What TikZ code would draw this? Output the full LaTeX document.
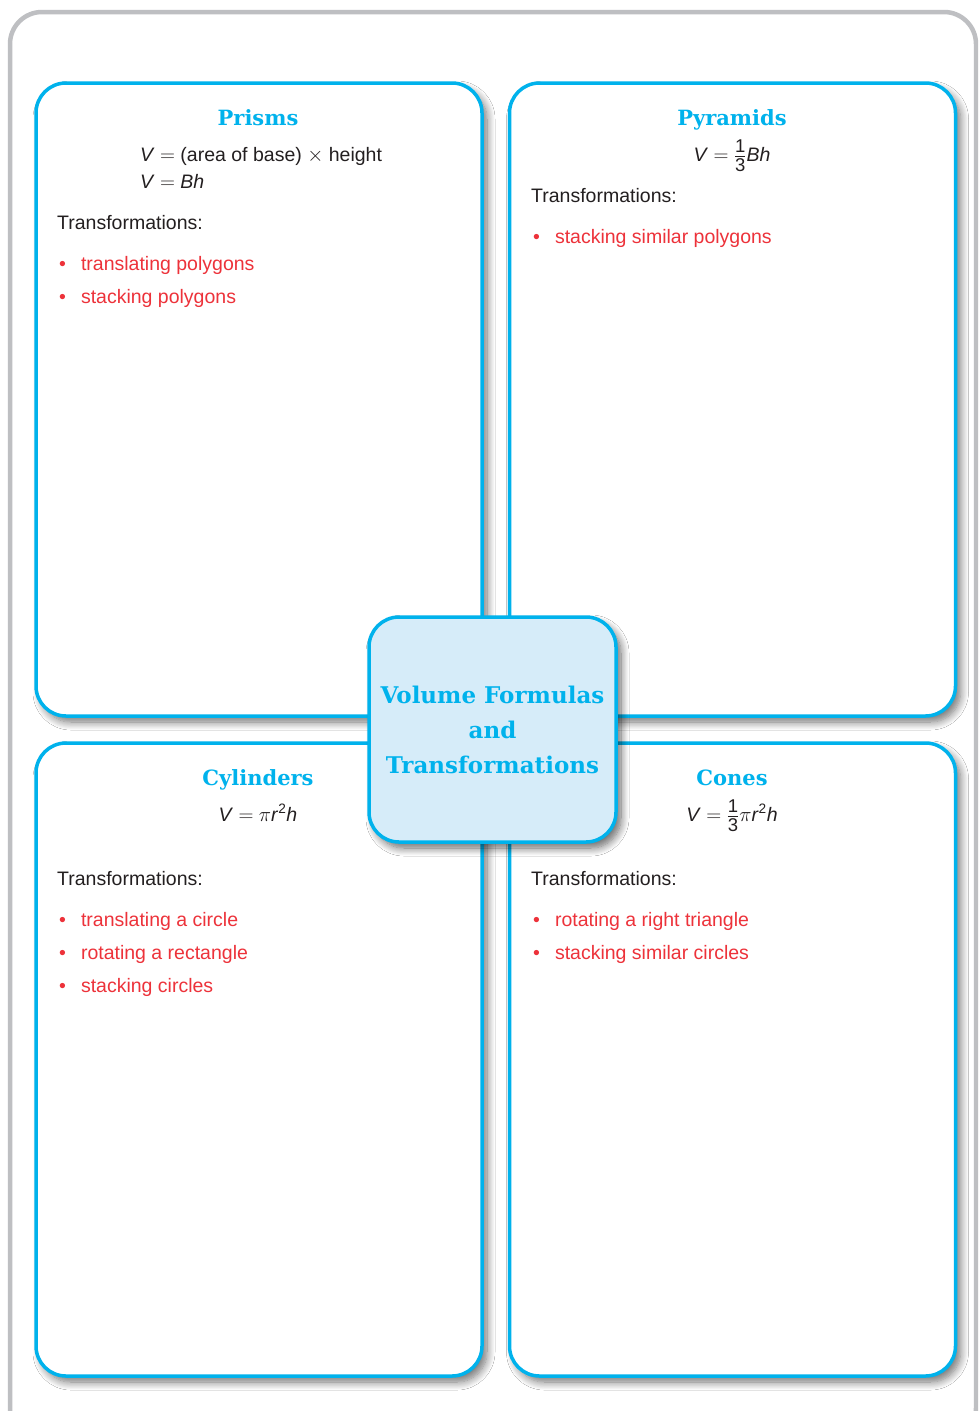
\documentclass[tikz,border=0pt]{standalone}
\usepackage{fontspec}
\setmainfont{Liberation Sans}
\newfontfamily\titlefont{DejaVu Serif}
\usetikzlibrary{positioning,shadows.blur}
\definecolor{framegray}{RGB}{190,191,194}
\definecolor{panelcyan}{RGB}{0,178,236}
\definecolor{hubfill}{RGB}{214,236,249}
\definecolor{itemred}{RGB}{237,50,58}
\definecolor{textdark}{RGB}{35,31,32}

\newcommand{\bodysize}{\fontsize{19.5}{23}\selectfont}
\newcommand{\headsize}{\titlefont\bfseries\fontsize{21}{35}\selectfont}
\newcommand{\hubsize}{\titlefont\bfseries\fontsize{23}{35}\selectfont}
\newcommand{\fracsize}{\fontsize{18.5}{19}\selectfont}
\newcommand{\third}{$\frac{\hbox{\fracsize\rule[-2pt]{0pt}{2pt}1}}{\hbox{\fracsize\rule{0pt}{15pt}3}}$}
\newcommand{\itemdot}{\textbullet\hspace{15pt}}

\begin{document}
\begin{tikzpicture}[x=1pt,y=-1pt,
  panel/.style={draw=panelcyan, line width=3.5pt, rounded corners=30pt, fill=white,
    minimum width=446pt, minimum height=633pt,
    blur shadow={shadow xshift=5pt, shadow yshift=-6pt, shadow blur radius=8pt, shadow blur steps=10, shadow opacity=55}},
  hub/.style={draw=panelcyan, line width=3.5pt, rounded corners=30pt, fill=hubfill,
    minimum width=247pt, minimum height=225pt, align=center, text=panelcyan, font=\hubsize,
    blur shadow={shadow xshift=5pt, shadow yshift=-6pt, shadow blur radius=8pt, shadow blur steps=10, shadow opacity=60}},
  head/.style={font=\headsize, text=panelcyan, anchor=base, inner sep=0pt},
  formula/.style={font=\bodysize, text=textdark, anchor=base, inner sep=0pt},
  bodytext/.style={font=\bodysize, text=textdark, anchor=base west, inner sep=0pt},
  bulletitem/.style={font=\bodysize, text=itemred, anchor=base west, inner sep=0pt}]
\useasboundingbox (0,0) rectangle (978,1411);
\clip (0,0) rectangle (978,1411);
\fill[white] (0,0) rectangle (978,1411);

% outer frame
\draw[framegray, line width=4.5pt, rounded corners=32pt] (10,12) rectangle (976,1440);

% four panels
\node[panel] (prisms) at (259,399.5) {};
\node[panel] (pyramids) at (732.5,399.5) {};
\node[panel] (cylinders) at (259,1059.5) {};
\node[panel] (cones) at (732.5,1059.5) {};

% prisms
\node[head] (prismshead) at (258,125) {Prisms};
\node[bodytext] (prismsf1) at (140,161) {\textit{V} $=$ (area of base) $\times$ height};
\node[bodytext] (prismsf2) at (140,188) {\textit{V} $=$ \textit{Bh}};
\node[bodytext] (prismst) at (57,229) {Transformations:};
\node[bulletitem] (prisms1) at (59,270) {\itemdot translating polygons};
\node[bulletitem] (prisms2) at (59,303) {\itemdot stacking polygons};

% pyramids
\node[head] (pyramidshead) at (732,125) {Pyramids};
\node[formula] (pyramidsf) at (732,161) {\textit{V} $=$ \third\textit{Bh}};
\node[bodytext] (pyramidst) at (531,202) {Transformations:};
\node[bulletitem] (pyramids1) at (533,243) {\itemdot stacking similar polygons};

% cylinders
\node[head] (cylindershead) at (258,785) {Cylinders};
\node[formula] (cylindersf) at (258,821) {\textit{V} $=$ $\pi$\textit{r}\textsuperscript{2}\textit{h}};
\node[bodytext] (cylinderst) at (57,885) {Transformations:};
\node[bulletitem] (cylinders1) at (59,926) {\itemdot translating a circle};
\node[bulletitem] (cylinders2) at (59,959) {\itemdot rotating a rectangle};
\node[bulletitem] (cylinders3) at (59,992) {\itemdot stacking circles};

% cones
\node[head] (coneshead) at (732,785) {Cones};
\node[formula] (conesf) at (732,821) {\textit{V} $=$ \third$\pi$\textit{r}\textsuperscript{2}\textit{h}};
\node[bodytext] (conest) at (531,885) {Transformations:};
\node[bulletitem] (cones1) at (533,926) {\itemdot rotating a right triangle};
\node[bulletitem] (cones2) at (533,959) {\itemdot stacking similar circles};

% centre
\node[hub] (hub) at (492.5,729.5) {Volume Formulas\\and\\Transformations};
\end{tikzpicture}
\end{document}
